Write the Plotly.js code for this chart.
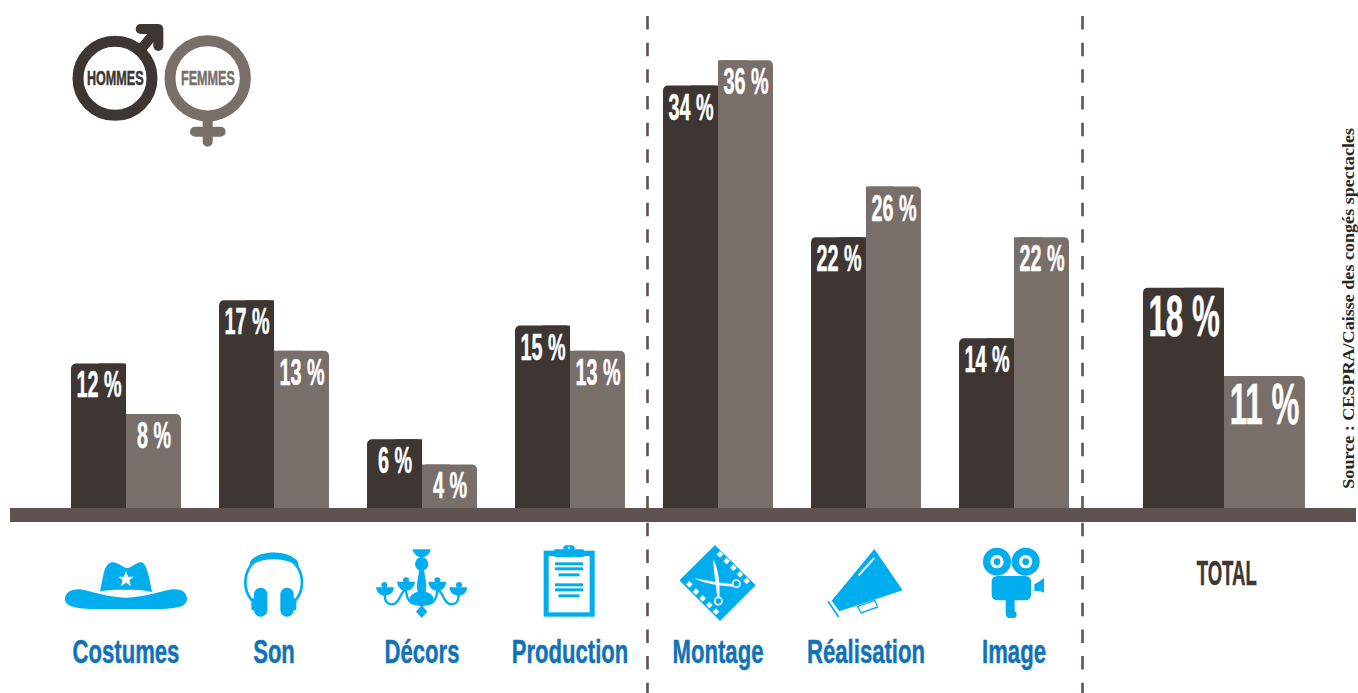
<!DOCTYPE html>
<html lang="fr">
<head>
<meta charset="utf-8">
<title>Part de l'intermittence par métier</title>
<script src="https://cdn.plot.ly/plotly-3.0.1.min.js"></script>
<style>html,body{margin:0;padding:0;background:#fff;overflow:hidden}#chart{width:1358px;height:693px}</style>
</head>
<body>
<div id="chart"></div>
<script>
// Percentages per trade, men then women; the last entry is the overall total.
const categories = ['Costumes', 'Son', 'Décors', 'Production', 'Montage', 'Réalisation', 'Image'];
const totalLabel = 'TOTAL';
const hommes = [12, 17, 6, 15, 34, 22, 14, 18];
const femmes = [8, 13, 4, 13, 36, 26, 22, 11];
const legendLabels = ['HOMMES', 'FEMMES'];
const sourceText = 'Source : CESPRA/Caisse des congés spectacles';

const DARK = '#3d3633', GREY = '#786e6a', BAND = '#5e5350', SKY = '#00aeef', BLUE = '#1272b8';
const DISPLAY = '"Liberation Sans",sans-serif';

// Page geometry, in pixels
const W = 1358, H = 693, PLOT_BOTTOM = 628, ZERO_Y = 515, PX_PER_UNIT = 12.63;
const paperY = py => (PLOT_BOTTOM - py) / PLOT_BOTTOM;

const centres = [126, 274, 422, 570, 718, 866, 1014, 1224];
const widths = centres.map((_, i) => (i === 7 ? 81 : 55));

function bars(values, sign, colour, name) {
  const common = {type: 'bar', y: values, name, hoverinfo: 'skip', showlegend: false};
  return [
    // Full bar with rounded top corners
    Object.assign({}, common, {
      x: centres.map((c, i) => c + sign * widths[i] / 2),
      width: widths,
      marker: {color: colour, cornerradius: 5, line: {width: 0}}
    }),
    // Square half that flattens the corner facing the neighbouring bar
    Object.assign({}, common, {
      x: centres.map((c, i) => c + sign * widths[i] / 4),
      width: widths.map(w => w / 2),
      marker: {color: colour, line: {width: 0}}
    })
  ];
}

const traces = [...bars(femmes, 1, GREY, 'Femmes'), ...bars(hommes, -1, DARK, 'Hommes')];

// Value labels placed under the top of each bar
function valueLabels(values, sign) {
  return values.map((v, i) => {
    const big = i === 7;
    return {
      x: centres[i] + sign * widths[i] / 2, y: v, xref: 'x', yref: 'y',
      text: v + ' %', showarrow: false, yanchor: 'top', xanchor: 'center',
      yshift: big ? 6 : 0, borderpad: 0,
      font: {family: DISPLAY, size: big ? 58 : 36, color: '#fff', weight: 700}
    };
  });
}

function text(x, py, str, size, colour) {
  return {x, y: paperY(py), xref: 'x', yref: 'paper', text: str, showarrow: false,
    xanchor: 'center', yanchor: 'middle', font: {family: DISPLAY, size, color: colour, weight: 700}};
}

const annotations = [
  ...valueLabels(hommes, -1), ...valueLabels(femmes, 1),
  text(1226, 572, totalLabel, 35, DARK),
  text(115, 78, legendLabels[0], 21, DARK),
  text(208, 78, legendLabels[1], 21, GREY),
  {x: 1349, y: paperY(309), xref: 'x', yref: 'paper', text: sourceText, showarrow: false,
   textangle: -90, xanchor: 'center', yanchor: 'middle',
   font: {family: '"Liberation Serif",serif', size: 16, color: '#2b2523', weight: 700}}
];

// Separators between the groups of trades
const separator = x => ({type: 'line', xref: 'x', yref: 'paper', x0: x, x1: x,
  y0: paperY(16), y1: paperY(H), layer: 'above',
  line: {color: BAND, width: 2.6, dash: '13.5px,13.17px'}});

// Icons and the gender symbols, drawn at three times their display size
function icon(x, y, w, h, body) {
  const svg = `<svg xmlns="http://www.w3.org/2000/svg" viewBox="0 0 ${w * 3} ${h * 3}" width="${w * 3}" height="${h * 3}">${body}</svg>`;
  return {source: 'data:image/svg+xml;charset=utf-8,' + encodeURIComponent(svg), xref: 'x', yref: 'paper',
    x, y: paperY(y), sizex: w, sizey: h / PLOT_BOTTOM, xanchor: 'left', yanchor: 'top', sizing: 'stretch', layer: 'above'};
}

const hat = `<g transform="translate(-45,-90)"><g fill="${SKY}"><path d="M150,184 L160,135 C165,110 175,97 188,97 C205,97 218,114 232,114 C246,114 258,97 272,97 C285,97 292,120 298,145 L306,186 C280,180 250,178 228,180 C200,178 175,180 150,184Z"/>
<path d="M45,208 C45,190 60,178 85,178 C110,178 170,203 228,203 C285,203 345,178 375,178 C398,178 411,190 411,208 C411,228 385,237 330,237 L125,237 C75,237 45,228 45,208Z"/></g>
<path fill="#fff" d="M228,123 L234,140 L251,140 L238,151 L243,168 L228,158 L213,168 L218,151 L205,140 L222,140Z"/></g>`;

const headphones = `<g transform="translate(-570,-45)" fill="${SKY}"><path d="M606,212 A85,85 0 1 1 736,212" fill="none" stroke="${SKY}" stroke-width="8"/>
<path d="M600,95 C625,58 717,58 744,95 L746,112 C715,80 627,80 598,112Z"/>
<rect x="612" y="173" width="40" height="87" rx="20"/><rect x="691" y="173" width="40" height="87" rx="20"/>
<rect x="604" y="205" width="14" height="36" rx="5"/><rect x="725" y="205" width="14" height="36" rx="5"/></g>`;

const chandelierSide = `<path d="M48,172 L102,172 C100,190 88,197 74,197 C60,197 50,187 48,172Z"/><circle cx="73" cy="165" r="9"/>
<path d="M111,155 L165,155 C163,172 152,182 138,182 C124,182 113,172 111,155Z"/><circle cx="138" cy="151" r="9"/>
<path d="M74,195 C74,228 105,232 118,205 C125,190 128,185 135,180" fill="none" stroke="${SKY}" stroke-width="7"/>
<path d="M138,180 C140,205 150,222 168,222" fill="none" stroke="${SKY}" stroke-width="7"/>`;
const chandelier = `<g transform="translate(-45,-45)" fill="${SKY}"><path d="M158,58 L212,58 C210,72 198,82 185,82 C172,82 160,72 158,58Z"/><rect x="180" y="78" width="10" height="10"/>
<circle cx="185" cy="102" r="20"/><path d="M178,120 L192,120 C196,145 202,165 197,185 C215,190 222,200 222,212 C210,225 195,228 185,228 C175,228 160,225 148,212 C148,200 155,190 173,185 C168,165 174,145 178,120Z"/>
<path d="M185,225 L202,245 L185,263 L168,245Z"/>
${chandelierSide}<g transform="translate(370,0) scale(-1,1)">${chandelierSide}</g></g>`;

const lines = [[52, 84], [67, 84], [85, 63], [115, 84], [130, 84], [148, 63]];
const clipboard = `<rect x="8" y="17" width="153" height="198" fill="${SKY}"/><rect x="23" y="33" width="123" height="169" fill="#fff"/>
<rect x="38" y="13" width="92" height="23" rx="6" fill="${SKY}"/><rect x="67" y="1" width="34" height="20" rx="9" fill="${SKY}"/><circle cx="84" cy="8" r="3" fill="#fff"/>
${lines.map(([y, w]) => `<rect x="${84 - w / 2}" y="${y}" width="${w}" height="9" fill="${SKY}"/>`).join('')}`;

const holesTop = [[120, 28], [140, 48], [160, 68], [180, 88], [200, 108]];
const holesBottom = [[28, 118], [48, 140], [68, 160], [88, 180], [108, 200]];
const filmHole = ([x, y]) => `<rect x="${x - 7}" y="${y - 7}" width="14" height="14" transform="rotate(45 ${x} ${y})" fill="#fff"/>`;
const film = `<path fill="${SKY}" d="M105,0 L227,121 L120,228 L-2,106Z"/>
${holesTop.map(filmHole).join('')}${holesBottom.map(filmHole).join('')}
<path fill="#fff" d="M100,43 C112,65 122,110 118,160 L112,160 C108,115 100,75 100,43Z"/>
<path fill="#fff" d="M43,100 C65,103 115,115 170,118 L170,125 C120,125 70,115 43,100Z"/>
<circle cx="115" cy="168" r="11" fill="${SKY}" stroke="#fff" stroke-width="5"/>
<circle cx="169" cy="116" r="11" fill="${SKY}" stroke="#fff" stroke-width="5"/>`;

const megaphone = `<path fill="${SKY}" d="M145,3 L230,127 L40,190 L17,158Z"/>
<path fill="none" stroke="${SKY}" stroke-width="5" d="M6,160 L38,207"/>
<path fill="#fff" stroke="${SKY}" stroke-width="4" d="M95,175 L146,157 L155,177 L105,195Z"/>
<path stroke="#fff" stroke-width="6" stroke-linecap="round" d="M100,80 L143,32"/>`;

const reel = x => `<circle cx="${x}" cy="47" r="42" fill="${SKY}"/><circle cx="${x}" cy="47" r="20" fill="#fff"/><circle cx="${x}" cy="47" r="10" fill="${SKY}"/>`;
const camera = `${reel(51)}${reel(137)}<g fill="${SKY}"><rect x="35" y="90" width="118" height="73" rx="16"/>
<path d="M163,115 L180,105 L192,95 L192,140 L180,135 L163,135Z"/>
<path d="M77,160 L104,160 L104,195 C112,200 112,208 105,216 L90,216 C80,216 77,208 77,200Z"/></g>`;

const male = `<g transform="translate(20,-20)"><circle cx="145" cy="195" r="111" fill="none" stroke="${DARK}" stroke-width="33"/>
<path d="M225,105 L275,47 M222,47 L275,47 L275,98" fill="none" stroke="${DARK}" stroke-width="30" stroke-linecap="round" stroke-linejoin="round"/></g>`;
const female = `<g transform="translate(10,-20)"><circle cx="133" cy="195" r="113" fill="none" stroke="${GREY}" stroke-width="33"/>
<path d="M133,320 L133,385 M95,355 L172,355" fill="none" stroke="${GREY}" stroke-width="30" stroke-linecap="round"/></g>`;

const images = [
  icon(65, 560, 122, 52, hat),
  icon(240, 545, 68, 76, headphones),
  icon(375, 545, 100, 76, chandelier),
  icon(541, 545, 60, 76, clipboard),
  icon(680, 545, 78, 78, film),
  icon(826, 548, 80, 76, megaphone),
  icon(980, 546, 66, 76, camera),
  icon(60, 20, 110, 110, male),
  icon(160, 20, 100, 140, female)
];

const layout = {
  width: W, height: H, autosize: false,
  margin: {l: 10, r: 2, t: 0, b: H - PLOT_BOTTOM, pad: 0},
  paper_bgcolor: '#fff', plot_bgcolor: 'rgba(0,0,0,0)',
  barmode: 'overlay', showlegend: false, hovermode: false,
  xaxis: {
    range: [10, 1356], fixedrange: true, showgrid: false, zeroline: false, showline: false, ticks: '',
    tickmode: 'array', tickvals: centres.slice(0, categories.length), ticktext: categories, tickangle: 0,
    automargin: false,
    tickfont: {family: DISPLAY, size: 34, color: BLUE, weight: 700}
  },
  yaxis: {
    range: [(ZERO_Y - PLOT_BOTTOM) / PX_PER_UNIT, ZERO_Y / PX_PER_UNIT], fixedrange: true,
    showgrid: false, showticklabels: false, ticks: '', showline: false,
    zeroline: true, zerolinecolor: BAND, zerolinewidth: 14, zerolinelayer: 'above traces'
  },
  shapes: [separator(647.5), separator(1082.5)],
  annotations, images
};

// Horizontal tightening per font size, so the sans reads as a condensed display face
const condense = {36: 0.55, 58: 0.54, 35: 0.53, 34: 0.65, 21: 0.6, 16: 1.13};

Plotly.newPlot('chart', traces, layout, {staticPlot: true, displayModeBar: false}).then(() => {
  document.querySelectorAll('.xtick text, .annotation-text').forEach(el => {
    const factor = condense[parseFloat(el.style.fontSize)];
    if (!factor) return;
    el.setAttribute('textLength', (el.getComputedTextLength() * factor).toFixed(1));
    el.setAttribute('lengthAdjust', 'spacingAndGlyphs');
    if (factor < 1) {
      el.style.stroke = el.style.fill;
      el.style.strokeWidth = '0.5px';
    }
  });
});
</script>
</body>
</html>
